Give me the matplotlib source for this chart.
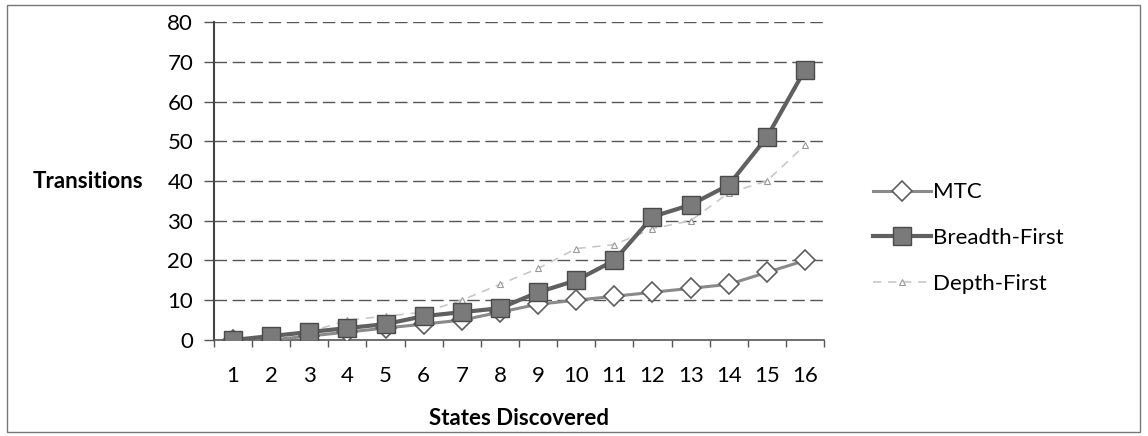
import numpy as np
import matplotlib
matplotlib.use('Agg')
from matplotlib import pyplot as plt
from matplotlib.patches import Rectangle

# values
states = list(range(1, 17))
mtc = [0, 0, 1, 2, 3, 4, 5, 7, 9, 10, 11, 12, 13, 14, 17, 20]
breadth_first = [0, 1, 2, 3, 4, 6, 7, 8, 12, 15, 20, 31, 34, 39, 51, 68]
depth_first = [0, 1, 2, 5, 6, 7, 10, 14, 18, 23, 24, 28, 30, 37, 40, 49]
y_ticks = list(range(0, 81, 10))

plt.rcParams['font.family'] = ['Lato', 'DejaVu Sans']

fig = plt.figure(figsize=(11.48, 4.36), dpi=100)
ax = fig.add_axes([0.1864, 0.2202, 0.5314, 0.7293])

'''outer chart border'''
fig.patches.append(Rectangle((7 / 1148, 4 / 436), 1133 / 1148, 427 / 436,
                             transform=fig.transFigure, fill=False,
                             edgecolor='#777777', lw=1.0))

for v in y_ticks[1:]:
    ax.axhline(v, color='#555555', lw=1.0, ls=(0, (9, 4)), zorder=0)

ax.plot(states, depth_first, color='#c8c8c8', lw=1.2, ls=(0, (5, 4)),
        marker='^', ms=5, mfc='white', mec='#999999', mew=0.8,
        label='Depth-First', zorder=2)
ax.plot(states, mtc, color='#8a8a8a', lw=2.2, marker='D', ms=10,
        mfc='white', mec='#5e5e5e', mew=1.2, label='MTC', zorder=3)
ax.plot(states, breadth_first, color='#606060', lw=3.0, marker='s', ms=13,
        mfc='#7a7a7a', mec='#4a4a4a', mew=1.0, label='Breadth-First', zorder=4)

ax.set_xlim(0.5, 16.5)
ax.set_ylim(0, 80)
ax.set_yticks(y_ticks)
ax.set_xticks(states)
ax.set_xticks(np.arange(0.5, 17, 1), minor=True)
ax.tick_params(axis='y', length=7, width=1, color='#555555', pad=8, labelsize=16)
ax.tick_params(axis='x', which='major', length=0, pad=19, labelsize=16)
ax.tick_params(axis='x', which='minor', length=5, width=1, color='#555555')

for s in ['top', 'right']:
    ax.spines[s].set_visible(False)
ax.spines['left'].set_color('#444444')
ax.spines['left'].set_linewidth(1.5)
ax.spines['bottom'].set_color('#555555')
ax.spines['bottom'].set_linewidth(1.2)

fig.text(143 / 1148, 1 - 181 / 436, 'Transitions', ha='right', va='center',
         fontsize=16, fontweight='bold')
fig.text(519 / 1148, 1 - 418 / 436, 'States Discovered', ha='center', va='center',
         fontsize=16, fontweight='bold')

h, l = ax.get_legend_handles_labels()
order = [1, 2, 0]
fig.legend([h[i] for i in order], [l[i] for i in order], loc='center left',
           bbox_to_anchor=(873 / 1148, 1 - 238 / 436), frameon=False,
           fontsize=16, handlelength=2.6, handletextpad=0.1, labelspacing=1.15,
           borderpad=0, borderaxespad=0)

fig.savefig('out.png', dpi=100)
